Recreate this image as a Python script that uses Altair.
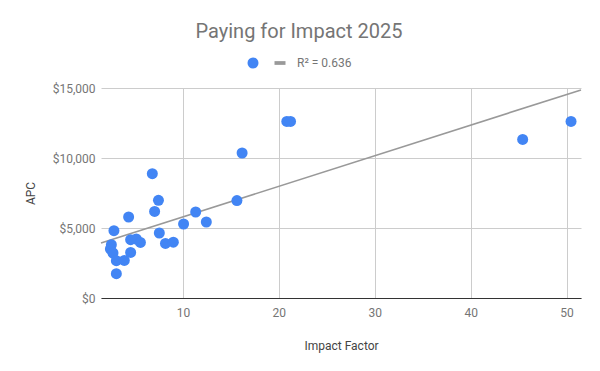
import altair as alt
import pandas as pd

# Values
impact_factor = [2.81, 4.34, 7.05, 7.45, 11.33, 12.44, 10.07, 7.54, 8.18, 9.00,
                 4.55, 5.14, 5.57, 2.54, 2.44, 2.71, 3.06, 3.89, 4.55, 3.06,
                 6.81, 15.63, 16.17, 20.83, 21.22, 45.42, 50.46]
apc = [4807, 5786, 6186, 6975, 6143, 5429, 5286, 4643, 3900, 3985,
       4164, 4214, 3971, 3807, 3500, 3214, 2664, 2686, 3257, 1736,
       8879, 6960, 10357, 12614, 12614, 11329, 12614]

series_names = ["pts", "R² = 0.636"]
series_colors = ["#4285f4", "#999999"]
series_shapes = ["circle", "M-1,-0.34H1V0.34H-1Z"]
x_ticks = [10, 20, 30, 40, 50]
y_ticks = [0, 5000, 10000, 15000]

df = pd.DataFrame({"x": impact_factor, "y": apc})

legend = alt.Legend(
    title=None, orient="none", legendX=146, legendY=-31, direction="horizontal",
    labelExpr="datum.label == 'pts' ? '' : datum.label",
    labelFontSize=12, labelColor="#757575", labelFont="Roboto",
    symbolSize=121, labelOffset=11, columnPadding=4, symbolStrokeWidth=0,
)
color = alt.Color("series:N", scale=alt.Scale(domain=series_names, range=series_colors), legend=legend)
shape = alt.Shape("series:N", scale=alt.Scale(domain=series_names, range=series_shapes), legend=legend)

x_enc = alt.X("x:Q", scale=alt.Scale(domain=[1.46, 51.5], nice=False, zero=False),
              axis=alt.Axis(title="Impact Factor", values=x_ticks, grid=True, ticks=False, tickSize=0,
                            labelPadding=9, domainColor="#333333", domainWidth=1.2,
                            titleY=47, titleBaseline="middle"))
y_enc = alt.Y("y:Q", scale=alt.Scale(domain=[0, 15000], nice=False),
              axis=alt.Axis(title="APC", values=y_ticks, format="$,.0f", grid=True, ticks=False, tickSize=0,
                            domain=False, labelPadding=6, titleX=-71, titleY=105,
                            titleBaseline="middle", titleAlign="center"))

points = alt.Chart(df).transform_calculate(series="'pts'").mark_point(
    filled=True, opacity=1, size=121
).encode(x=x_enc, y=y_enc, color=color, shape=shape)

trend = alt.Chart(df).transform_regression(
    "x", "y", extent=[1.46, 51.5]
).transform_calculate(series="'R² = 0.636'").mark_line(strokeWidth=1.6).encode(
    x="x:Q", y="y:Q", color=color
)

chart = alt.layer(trend, points).properties(
    width=480, height=210,
    title=alt.TitleParams("Paying for Impact 2025", fontSize=20, color="#757575", font="Roboto",
                          fontWeight="normal", anchor="middle", dx=-42, offset=15),
    autosize=alt.AutoSizeParams(type="none"),
    padding={"left": 93, "top": 80, "right": 11, "bottom": 55},
).configure(font="Roboto").configure_view(stroke=None).configure_axis(
    labelFont="Roboto", labelFontSize=12, labelColor="#757575",
    titleFont="Roboto", titleFontSize=12, titleColor="#444444", titleFontWeight="normal",
    gridColor="#cccccc", gridWidth=1,
)

chart.save("out.html", embed_options={"renderer": "svg", "actions": False})
